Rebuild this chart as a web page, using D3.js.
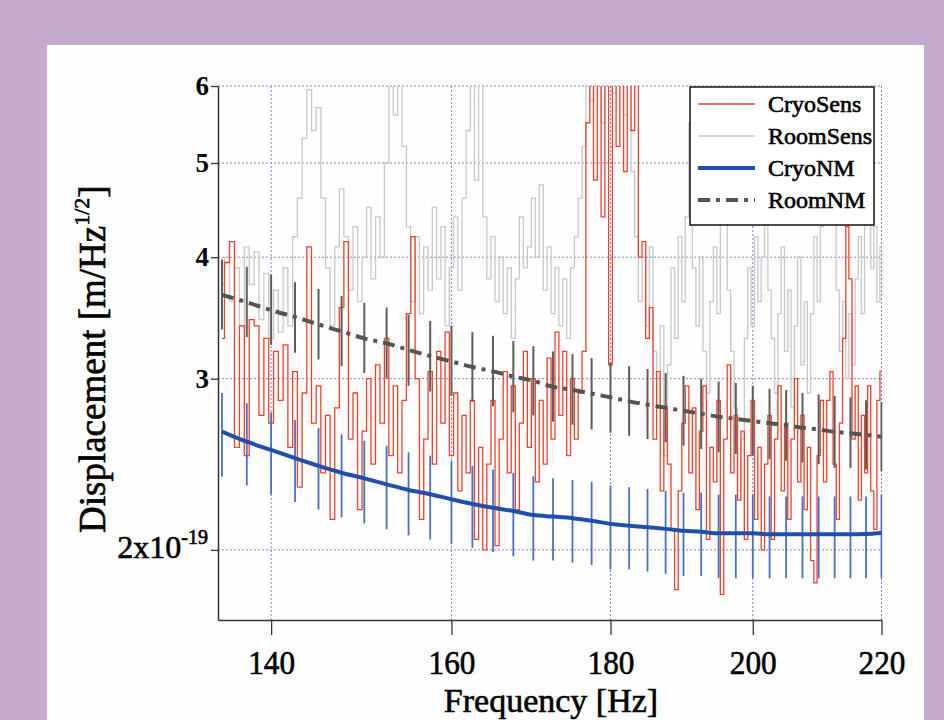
<!DOCTYPE html>
<html>
<head>
<meta charset="utf-8">
<script src="https://cdn.jsdelivr.net/npm/d3@7"></script>
<style>
  body { margin: 0; background: #c4aacf; }
  svg { display: block; }
  text { font-family: "Liberation Serif", "DejaVu Serif", serif; fill: #000; }
  .heavy { stroke: #000; stroke-width: 0.6px; }
</style>
</head>
<body>
<svg id="chart" width="944" height="720"></svg>
<script>
// sensitivity spectra in units of 1e-19 m/Hz^1/2, one value per 0.5 Hz bin starting at 135 Hz
const binStart = 135;
const binWidth = 0.5;

const cryoSens = [
    3.30, 3.95, 4.15, 2.55, 3.40, 2.50, 3.45, 3.40, 2.75, 3.30,
    2.70, 3.20, 2.85, 3.25, 2.55, 3.05, 2.32, 2.90, 4.10, 2.70,
    2.95, 2.40, 2.75, 2.15, 2.80, 3.55, 4.15, 2.60, 2.90, 2.20,
    2.65, 3.00, 2.45, 3.10, 2.70, 3.30, 2.50, 2.95, 2.40, 2.85,
    3.50, 4.20, 3.00, 2.15, 2.60, 3.05, 2.45, 3.20, 2.70, 3.35,
    2.50, 2.90, 2.30, 2.75, 2.40, 2.85, 2.05, 2.55, 2.00, 2.45,
    2.85, 2.02, 2.60, 3.05, 2.40, 2.95, 2.20, 2.70, 3.20, 2.55,
    3.00, 2.35, 2.85, 2.45, 3.15, 2.60, 3.35, 2.75, 3.20, 2.50,
    3.00, 2.60, 2.90, 3.20, 5.50, 6.50, 4.80, 6.50, 4.40, 6.50,
    3.10, 6.50, 5.20, 6.50, 4.90, 6.50, 5.40, 6.50, 4.00, 4.15,
    3.30, 3.55, 2.60, 3.05, 2.30, 2.80, 2.45, 2.10, 1.82, 2.30,
    2.70, 2.95, 2.40, 2.80, 2.20, 2.65, 2.95, 2.05, 2.55, 2.35,
    2.85, 1.80, 2.60, 3.10, 2.40, 2.75, 2.25, 2.65, 2.05, 2.50,
    2.85, 2.15, 2.55, 2.00, 2.45, 2.75, 2.05, 2.60, 2.95, 2.30,
    2.70, 2.15, 2.60, 3.00, 2.35, 2.75, 2.20, 2.55, 1.95, 1.85,
    2.50, 2.85, 2.35, 2.85, 3.05, 2.45, 2.15, 2.70, 3.30, 4.30,
    3.80, 2.60, 2.95, 2.25, 2.75, 2.40, 2.95, 2.30, 2.10, 2.85,
    3.05
];

const roomSens = [
    3.75, 4.00, 3.60, 3.90, 3.40, 4.10, 3.75, 4.05, 3.45, 3.85,
    3.30, 3.70, 3.35, 3.90, 3.40, 4.20, 4.60, 5.30, 5.95, 5.40,
    5.70, 4.60, 3.90, 3.40, 4.10, 4.70, 4.20, 3.70, 4.30, 3.60,
    4.00, 4.50, 3.80, 4.40, 4.00, 5.00, 6.50, 5.60, 6.50, 5.20,
    4.30, 3.60, 4.20, 3.50, 4.10, 3.70, 4.50, 3.80, 4.30, 3.40,
    3.90, 4.40, 3.70, 4.60, 5.40, 6.50, 4.80, 6.50, 4.40, 3.80,
    4.20, 3.60, 4.00, 3.50, 3.90, 3.30, 3.80, 4.40, 3.90, 4.10,
    4.60, 4.00, 4.75, 3.70, 4.10, 3.50, 3.90, 3.40, 3.80, 3.30,
    3.90, 4.20, 4.60, 5.20, 6.50, 5.80, 6.50, 6.50, 5.50, 6.50,
    6.50, 5.90, 6.50, 6.50, 5.60, 6.50, 4.90, 4.20, 3.60, 4.00,
    3.40, 4.10, 3.20, 2.80, 3.40, 2.50, 3.10, 3.90, 3.30, 4.20,
    3.60, 4.40, 5.50, 3.90, 3.40, 4.00, 3.20, 2.90, 3.60, 4.10,
    3.50, 4.40, 5.40, 3.70, 3.20, 2.80, 2.30, 2.60, 3.30, 3.90,
    3.40, 4.20, 3.60, 4.00, 5.60, 3.70, 3.30, 2.90, 3.50, 4.10,
    3.20, 3.70, 2.80, 3.40, 4.00, 3.10, 3.60, 2.90, 3.50, 4.20,
    3.60, 4.30, 5.20, 5.30, 4.80, 4.60, 3.70, 3.20, 3.60, 3.00,
    3.50, 3.10, 3.80, 4.20, 3.50, 5.00, 5.10, 3.90, 4.30, 3.60,
    4.10
];

// noise models with error bars, every 2.5 Hz
const nmFreqs = [
    135, 137.5, 140, 142.5, 145, 147.5, 150, 152.5, 155, 157.5,
    160, 162.5, 165, 167.5, 170, 172.5, 175, 177.5, 180, 182.5,
    185, 187.5, 190, 192.5, 195, 197.5, 200, 202.5, 205, 207.5,
    210, 212.5, 215, 217.5, 220
];

const cryoNM = [
    2.647, 2.584, 2.534, 2.485, 2.440, 2.401, 2.369, 2.336, 2.305, 2.282,
    2.255, 2.230, 2.210, 2.193, 2.172, 2.164, 2.156, 2.143, 2.127, 2.118,
    2.110, 2.102, 2.093, 2.088, 2.080, 2.080, 2.080, 2.075, 2.075, 2.075,
    2.075, 2.075, 2.075, 2.077, 2.082
];
const cryoNMHigh = [
    2.90, 2.83, 2.77, 2.72, 2.67, 2.63, 2.59, 2.56, 2.52, 2.50,
    2.47, 2.44, 2.42, 2.40, 2.38, 2.37, 2.36, 2.35, 2.33, 2.32,
    2.31, 2.30, 2.29, 2.29, 2.28, 2.28, 2.28, 2.27, 2.27, 2.27,
    2.27, 2.27, 2.27, 2.27, 2.28
];
const cryoNMLow = [
    2.38, 2.33, 2.28, 2.24, 2.20, 2.16, 2.13, 2.10, 2.07, 2.05,
    2.03, 2.01, 1.99, 1.97, 1.95, 1.95, 1.94, 1.93, 1.91, 1.91,
    1.90, 1.89, 1.88, 1.88, 1.87, 1.87, 1.87, 1.87, 1.87, 1.87,
    1.87, 1.87, 1.87, 1.87, 1.87
];

const roomNM = [
    3.658, 3.595, 3.528, 3.472, 3.411, 3.355, 3.300, 3.262, 3.211, 3.165,
    3.125, 3.084, 3.052, 3.016, 2.984, 2.943, 2.921, 2.896, 2.870, 2.843,
    2.821, 2.800, 2.781, 2.761, 2.742, 2.728, 2.714, 2.700, 2.687, 2.671,
    2.660, 2.645, 2.636, 2.626, 2.615
];
const roomNMHigh = [
    3.98, 3.91, 3.84, 3.77, 3.71, 3.65, 3.59, 3.55, 3.49, 3.44,
    3.40, 3.35, 3.32, 3.28, 3.24, 3.20, 3.18, 3.15, 3.12, 3.09,
    3.07, 3.04, 3.02, 3.00, 2.98, 2.97, 2.95, 2.93, 2.92, 2.90,
    2.89, 2.88, 2.87, 2.85, 2.84
];
const roomNMLow = [
    3.37, 3.31, 3.25, 3.19, 3.14, 3.09, 3.04, 3.00, 2.95, 2.91,
    2.88, 2.84, 2.81, 2.77, 2.75, 2.71, 2.69, 2.66, 2.64, 2.62,
    2.60, 2.58, 2.56, 2.54, 2.52, 2.51, 2.50, 2.48, 2.47, 2.46,
    2.45, 2.43, 2.43, 2.42, 2.41
];

const xTicks = [140, 160, 180, 200, 220];
const yTicks = [2, 3, 4, 5, 6];
const legendLabels = ['CryoSens', 'RoomSens', 'CryoNM', 'RoomNM'];

const sensFreqs = cryoSens.map((d, i) => binStart + i * binWidth);

const serif = '"Liberation Serif", "DejaVu Serif", serif';
const svg = d3.select('#chart');

// white panel on the purple frame
svg.append('rect')
    .attr('x', 47).attr('y', 45)
    .attr('width', 877).attr('height', 675)
    .attr('fill', '#fdfdfd');

const x = d3.scaleLog().domain([134.6, 220]).range([218, 881.5]);
const y = d3.scaleLog().domain([1.694, 6]).range([620, 86]);

// dotted grid
const grid = svg.append('g')
    .attr('stroke', '#6f8bd6')
    .attr('stroke-width', 1)
    .attr('stroke-dasharray', '2,2');
grid.selectAll('.gx').data(xTicks).join('line')
    .attr('class', 'gx')
    .attr('x1', d => x(d)).attr('x2', d => x(d))
    .attr('y1', y(6)).attr('y2', 620);
grid.selectAll('.gy').data(yTicks).join('line')
    .attr('class', 'gy')
    .attr('x1', 218).attr('x2', x(220))
    .attr('y1', d => y(d)).attr('y2', d => y(d));

svg.append('clipPath').attr('id', 'plotClip')
    .append('rect')
    .attr('x', 218).attr('y', y(6))
    .attr('width', x(220) - 218 + 1).attr('height', 620 - y(6));

const plot = svg.append('g').attr('clip-path', 'url(#plotClip)');

const stepLine = d3.line()
    .x(d => x(d[0]))
    .y(d => y(d[1]))
    .curve(d3.curveStep);

const smoothLine = d3.line()
    .x(d => x(d[0]))
    .y(d => y(d[1]))
    .curve(d3.curveMonotoneX);

plot.append('path')
    .datum(sensFreqs.map((f, i) => [f, roomSens[i]]))
    .attr('d', stepLine)
    .attr('fill', 'none')
    .attr('stroke', '#c8c8c8')
    .attr('stroke-width', 1.3);

plot.append('path')
    .datum(sensFreqs.map((f, i) => [f, cryoSens[i]]))
    .attr('d', stepLine)
    .attr('fill', 'none')
    .attr('stroke', '#f0412d')
    .attr('stroke-width', 1.3);

// room temperature noise model
plot.selectAll('.roomBar').data(nmFreqs).join('line')
    .attr('class', 'roomBar')
    .attr('x1', d => x(d)).attr('x2', d => x(d))
    .attr('y1', (d, i) => y(roomNMLow[i]))
    .attr('y2', (d, i) => y(roomNMHigh[i]))
    .attr('stroke', '#5c5c58')
    .attr('stroke-width', 2);

plot.append('path')
    .datum(nmFreqs.map((f, i) => [f, roomNM[i]]))
    .attr('d', smoothLine)
    .attr('fill', 'none')
    .attr('stroke', '#55554f')
    .attr('stroke-width', 4)
    .attr('stroke-dasharray', '12,6,4,6');

// cryogenic noise model
plot.selectAll('.cryoBar').data(nmFreqs).join('line')
    .attr('class', 'cryoBar')
    .attr('x1', d => x(d)).attr('x2', d => x(d))
    .attr('y1', (d, i) => y(cryoNMLow[i]))
    .attr('y2', (d, i) => y(cryoNMHigh[i]))
    .attr('stroke', '#4a6fc2')
    .attr('stroke-width', 1.8);

plot.append('path')
    .datum(nmFreqs.map((f, i) => [f, cryoNM[i]]))
    .attr('d', smoothLine)
    .attr('fill', 'none')
    .attr('stroke', '#1f4fa8')
    .attr('stroke-width', 4);

// axes
const yAxis = d3.axisLeft(y)
    .tickValues(yTicks)
    .tickSize(7)
    .tickSizeOuter(0)
    .tickPadding(2)
    .tickFormat(d => d === 2 ? '' : d);

const yG = svg.append('g').attr('transform', 'translate(218,0)').call(yAxis)
    .attr('font-family', serif);
yG.select('.domain').attr('stroke', '#333').attr('stroke-width', 1.5);
yG.selectAll('.tick line').attr('stroke', '#333').attr('stroke-width', 1.3);
yG.selectAll('.tick text')
    .attr('font-size', 27)
    .attr('font-weight', 'bold');

const xAxis = d3.axisBottom(x)
    .tickValues(xTicks)
    .tickSize(15)
    .tickSizeOuter(0)
    .tickFormat(d3.format('d'));

const xG = svg.append('g').attr('transform', 'translate(0,620)').call(xAxis)
    .attr('font-family', serif);
xG.select('.domain').attr('stroke', '#333').attr('stroke-width', 1.5);
xG.selectAll('.tick line').attr('stroke', '#333').attr('stroke-width', 1.3);
xG.selectAll('.tick text')
    .attr('class', 'heavy')
    .attr('font-size', 34)
    .attr('y', 54)
    .attr('dy', null)
    .attr('transform', 'scale(0.92,1)');

// the 2x10^-19 label on the lowest tick
const expLabel = svg.append('text')
    .attr('class', 'heavy')
    .attr('x', 208).attr('y', 558)
    .attr('text-anchor', 'end')
    .attr('font-size', 32);
expLabel.append('tspan').text('2x10');
expLabel.append('tspan').attr('font-size', 20).attr('dy', -14).text('-19');

// axis titles
svg.append('text')
    .attr('class', 'heavy')
    .attr('transform', 'translate(551,712)')
    .attr('text-anchor', 'middle')
    .attr('font-size', 34)
    .text('Frequency [Hz]');

const yTitle = svg.append('text')
    .attr('class', 'heavy')
    .attr('transform', 'translate(105,533) rotate(-90)')
    .attr('font-size', 37);
yTitle.append('tspan').text('Displacement [m/Hz');
yTitle.append('tspan').attr('font-size', 22).attr('dy', -16).text('1/2');
yTitle.append('tspan').attr('dy', 16).text(']');

// legend
const legend = svg.append('g');
legend.append('rect')
    .attr('x', 690).attr('y', 87)
    .attr('width', 184).attr('height', 138)
    .attr('fill', '#fff')
    .attr('stroke', '#111')
    .attr('stroke-width', 1.5);

const legendStyles = [
    { stroke: '#f0412d', width: 1.3, dash: null },
    { stroke: '#c8c8c8', width: 1.3, dash: null },
    { stroke: '#1f4fa8', width: 4, dash: null },
    { stroke: '#55554f', width: 4, dash: '12,6,4,6' }
];

const rows = legend.selectAll('.row').data(legendLabels).join('g')
    .attr('class', 'row')
    .attr('transform', (d, i) => `translate(0,${104 + i * 32})`);
rows.append('line')
    .attr('x1', 698).attr('x2', 755)
    .attr('stroke', (d, i) => legendStyles[i].stroke)
    .attr('stroke-width', (d, i) => legendStyles[i].width)
    .attr('stroke-dasharray', (d, i) => legendStyles[i].dash);
rows.append('text')
    .attr('class', 'heavy')
    .attr('x', 768).attr('y', 8)
    .attr('font-size', 24)
    .text(d => d);
</script>
</body>
</html>
